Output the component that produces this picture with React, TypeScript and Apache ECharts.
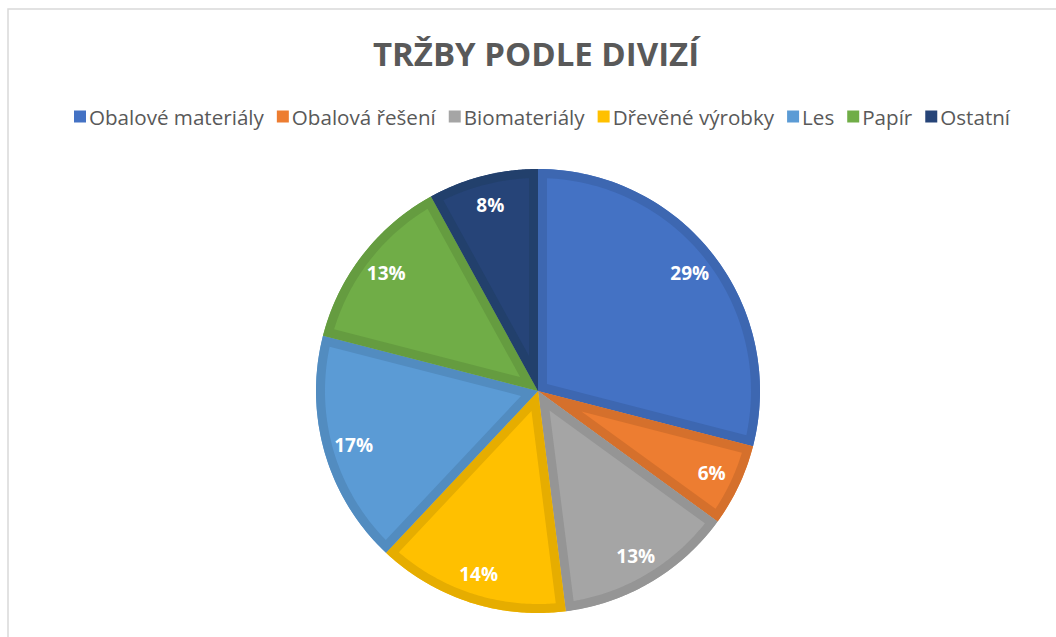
import React, { useEffect, useRef } from "react";
import * as echarts from "echarts";

const categories = [
  "Obalové materiály",
  "Obalová řešení",
  "Biomateriály",
  "Dřevěné výrobky",
  "Les",
  "Papír",
  "Ostatní",
];
const values = [29, 6, 13, 14, 17, 13, 8];
const fillColors = ["#4472C4", "#ED7D31", "#A5A5A5", "#FFC000", "#5B9BD5", "#70AD47", "#264478"];
const borderColors = ["#3D67B1", "#D5702C", "#959595", "#E6AD00", "#528CC0", "#659C40", "#22406C"];
const titleText = "TRŽBY PODLE DIVIZÍ";

const CX = 538;
const CY = 391;
const R = 222;
const BAND = 9;
const FONT = "'Open Sans', 'Noto Sans', sans-serif";

export default function App() {
  const ref = useRef<HTMLDivElement>(null);

  useEffect(() => {
    if (!ref.current) return;
    const chart = echarts.init(ref.current, undefined, { renderer: "svg" });
    const total = values.reduce((a, b) => a + b, 0);
    const pieData = categories.map((name, i) => ({
      name,
      value: values[i],
      itemStyle: { color: fillColors[i] },
    }));

    chart.setOption({
      animation: false,
      backgroundColor: "#ffffff",
      title: {
        text: titleText,
        left: 531,
        top: 32,
        textAlign: "center",
        textStyle: {
          fontFamily: FONT,
          fontWeight: "bold",
          fontSize: 33,
          color: "#595959",
        },
      },
      legend: {
        data: categories.map((name, i) => ({ name, itemStyle: { color: fillColors[i] } })),
        left: 69,
        top: 101,
        icon: "rect",
        itemWidth: 12,
        itemHeight: 12,
        itemGap: 13,
        textStyle: { fontFamily: FONT, fontSize: 20.6, color: "#595959", padding: [0, 0, 0, -2] },
      },
      graphic: [
        {
          type: "rect",
          shape: { x: 8, y: 9, width: 1200, height: 800 },
          style: { fill: "none", stroke: "#d9d9d9", lineWidth: 1.5 },
          silent: true,
          z: -1,
        },
      ],
      series: [
        {
          type: "pie",
          name: "Tržby",
          center: [CX, CY],
          radius: [0, R],
          startAngle: 90,
          clockwise: true,
          data: pieData,
          label: { show: false },
          labelLine: { show: false },
          itemStyle: { borderWidth: 0 },
          emphasis: { disabled: true },
          silent: true,
          z: 2,
        },
        {
          type: "custom",
          name: "okraje",
          coordinateSystem: "none",
          silent: true,
          z: 3,
          data: values.map((v) => [v]),
          renderItem: (params: any) => {
            const i = params.dataIndex;
            let before = 0;
            for (let k = 0; k < i; k++) before += values[k];
            const a0 = -Math.PI / 2 + (2 * Math.PI * before) / total;
            const a1 = a0 + (2 * Math.PI * values[i]) / total;
            const N = 80;
            const pts: number[][] = [];
            pts.push([CX, CY]);
            for (let j = 0; j <= N; j++) {
              const a = a0 + ((a1 - a0) * j) / N;
              pts.push([CX + R * Math.cos(a), CY + R * Math.sin(a)]);
            }
            pts.push([CX, CY]);
            const th = a1 - a0;
            const h = BAND / Math.sin(th / 2);
            const mid = (a0 + a1) / 2;
            const apex = [CX + h * Math.cos(mid), CY + h * Math.sin(mid)];
            const rho = R - BAND;
            const da = Math.asin(BAND / rho);
            pts.push(apex);
            const s = a1 - da;
            const e = a0 + da;
            for (let j = 0; j <= N; j++) {
              const a = s - ((s - e) * j) / N;
              pts.push([CX + rho * Math.cos(a), CY + rho * Math.sin(a)]);
            }
            pts.push(apex);
            return {
              type: "polygon",
              shape: { points: pts },
              style: { fill: borderColors[i], stroke: "none" },
            };
          },
        },
        {
          type: "pie",
          name: "Popisky",
          center: [CX, CY],
          radius: [156, R],
          startAngle: 90,
          clockwise: true,
          data: categories.map((name, i) => ({ name, value: values[i] })),
          itemStyle: { color: "rgba(0,0,0,0)", borderWidth: 0 },
          label: {
            show: true,
            position: "inside",
            formatter: (p: any) => Math.round(p.percent) + "%",
            fontFamily: FONT,
            fontWeight: "bold",
            fontSize: 19,
            color: "#ffffff",
          },
          labelLine: { show: false },
          emphasis: { disabled: true },
          silent: true,
          z: 4,
        },
      ],
    });

    return () => chart.dispose();
  }, []);

  return (
    <div
      ref={ref}
      style={{ position: "fixed", left: 0, top: 0, width: 1056, height: 637 }}
    />
  );
}
